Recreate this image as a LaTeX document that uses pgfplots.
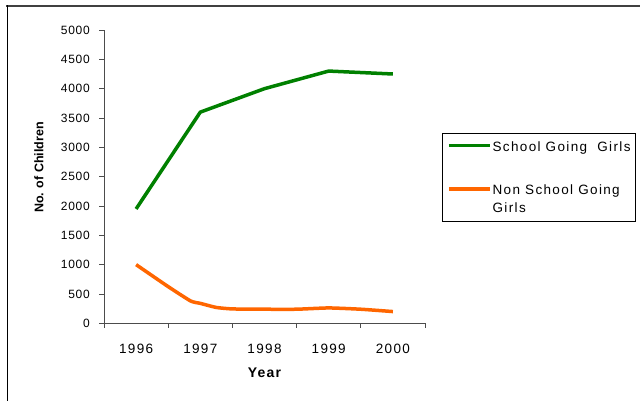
\documentclass[border=0pt]{standalone}
\usepackage{pgfplots}
\pgfplotsset{compat=1.18}
\usepackage{fontspec}
\setmainfont{Liberation Sans}
\newfontfamily\ytfont[LetterSpace=6]{Liberation Sans}
\newfontfamily\xtfont[LetterSpace=10]{Liberation Sans}
\newfontfamily\lgfont[LetterSpace=10]{Liberation Sans}
\newfontfamily\xlfont[LetterSpace=9]{Liberation Sans}
\definecolor{sgreen}{RGB}{0,128,0}
\definecolor{sorange}{RGB}{255,102,0}
\begin{document}
\begin{tikzpicture}[x=1pt,y=1pt]
\useasboundingbox (0,0) rectangle (640,400);
\clip (0,0) rectangle (640,400);
\draw[line width=2pt, black!75] (6,393.5) -- (700,393.5);
\draw[line width=1pt, black] (7.3,-10) -- (7.3,394.5);
\begin{axis}[
  at={(104pt,76.7pt)}, anchor=south west,
  scale only axis, width=321pt, height=293.3pt,
  xmin=-0.5, xmax=4.5, ymin=0, ymax=5000,
  axis lines*=left,
  axis line style={black!70, line width=0.8pt},
  every tick/.style={black!70, line width=0.8pt},
  tick align=outside,
  xtick={0,...,4}, xticklabels={1996,1997,1998,1999,2000},
  major x tick style={draw=none},
  minor xtick={-0.5,0.5,...,4.5},
  minor tick length=4.5pt,
  major tick length=5pt,
  ytick={0,500,...,5000},
  /pgf/number format/1000 sep={},
  /pgf/number format/assume math mode=true,
  yticklabel style={font=\ytfont\fontsize{12}{14}\selectfont, anchor=east, inner sep=0pt, xshift=-9pt},
  xticklabel style={font=\xtfont\fontsize{13.5}{16}\selectfont, anchor=north, inner sep=0pt, yshift=-16pt},
  xlabel={Year},
  ylabel={No. of Children},
  xlabel style={font=\xlfont\bfseries\fontsize{14}{16}\selectfont, at={(axis description cs:0.5,-0.184)}, anchor=base},
  ylabel style={font=\bfseries\fontsize{12.5}{14}\selectfont, at={(axis description cs:-0.189,0.531)}, rotate=0, anchor=base},
  legend style={at={(1.054,0.648)}, anchor=north west, draw=black, line width=0.8pt,
    inner xsep=4.4pt, inner ysep=0pt, font=\lgfont\fontsize{13.5}{17.4}\selectfont,
    cells={anchor=base west}, nodes={inner sep=0pt, text depth=, text height=},
    /tikz/every odd column/.append style={column sep=1pt}, row sep=0pt},
  legend image code/.code={\draw[#1] (0pt,5.5pt) -- (41pt,5.5pt);},
]
\addplot[sgreen, line width=3.5pt, line join=round] coordinates {(0,1950)(1,3600)(2,4000)(3,4300)(4,4250)};
\addlegendentry{\rule[-31.4pt]{0pt}{48.8pt}School Going\ \ Girls\hspace{14pt}}
\addplot[sorange, line width=3.5pt, line join=round, smooth, tension=0.3] coordinates {(0,1000)(0.5,625)(0.85,380)(1,340)(1.25,270)(1.5,245)(2,240)(2.5,240)(3,262)(3.5,240)(4,200)};
\addlegendentry{\begin{tabular}[t]{@{}l@{}}\rule{0pt}{11pt}Non School Going\\Girls\rule[-9.3pt]{0pt}{0pt}\end{tabular}}
\end{axis}
\end{tikzpicture}
\end{document}
